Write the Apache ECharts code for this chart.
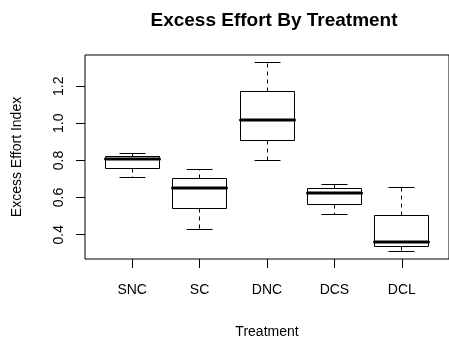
<!DOCTYPE html>
<html>
<head>
<meta charset="utf-8">
<script src="https://cdn.jsdelivr.net/npm/echarts@6/dist/echarts.min.js"></script>
<style>
  html, body { margin: 0; padding: 0; background: #fff; }
  #main { width: 449px; height: 344px; }
</style>
</head>
<body>
<div id="main"></div>
<script>
// treatments along the x axis
var categories = ['SNC', 'SC', 'DNC', 'DCS', 'DCL'];
// five-number summary per treatment (whisker ends, hinges, median)
var lowerWhisker = [0.710, 0.429, 0.800, 0.508, 0.309];
var lowerHinge   = [0.758, 0.542, 0.905, 0.565, 0.336];
var medians      = [0.807, 0.653, 1.016, 0.624, 0.360];
var upperHinge   = [0.821, 0.703, 1.171, 0.647, 0.506];
var upperWhisker = [0.835, 0.752, 1.327, 0.673, 0.652];
var yTicks = [0.4, 0.6, 0.8, 1.0, 1.2];
var xTicks = [1, 2, 3, 4, 5];

var fontFamily = 'Liberation Sans, Arial, Helvetica, sans-serif';

var boxData = categories.map(function (c, i) {
    return [i + 1, lowerWhisker[i], lowerHinge[i], medians[i], upperHinge[i], upperWhisker[i]];
});

function crisp(v) {
    return Math.round(v - 0.5) + 0.5;
}

// R style boxplot: open box, thick median, dashed whiskers, half-width staples
function renderBox(params, api) {
    var x = api.value(0);
    var pLo = api.coord([x, api.value(1)]);
    var pQ1 = api.coord([x, api.value(2)]);
    var pMed = api.coord([x, api.value(3)]);
    var pQ3 = api.coord([x, api.value(4)]);
    var pHi = api.coord([x, api.value(5)]);
    var w = api.size([0.8, 0])[0];
    var cx = crisp(pMed[0]);
    var left = crisp(cx - w / 2), right = crisp(cx + w / 2);
    var sl = crisp(cx - w / 4), sr = crisp(cx + w / 4);
    var line = { stroke: '#000', lineWidth: 1 };
    var dashed = { stroke: '#000', lineWidth: 1, lineDash: [4, 4] };
    return {
        type: 'group',
        children: [
            { type: 'line', shape: { x1: cx, y1: crisp(pQ3[1]), x2: cx, y2: crisp(pHi[1]) }, style: dashed },
            { type: 'line', shape: { x1: cx, y1: crisp(pQ1[1]), x2: cx, y2: crisp(pLo[1]) }, style: dashed },
            { type: 'line', shape: { x1: sl, y1: crisp(pHi[1]), x2: sr, y2: crisp(pHi[1]) }, style: line },
            { type: 'line', shape: { x1: sl, y1: crisp(pLo[1]), x2: sr, y2: crisp(pLo[1]) }, style: line },
            {
                type: 'rect',
                shape: { x: left, y: crisp(pQ3[1]), width: right - left, height: crisp(pQ1[1]) - crisp(pQ3[1]) },
                style: { fill: '#fff', stroke: '#000', lineWidth: 1 }
            },
            {
                type: 'line',
                shape: { x1: left, y1: Math.round(pMed[1]), x2: right, y2: Math.round(pMed[1]) },
                style: { stroke: '#000', lineWidth: 3, lineCap: 'round' }
            }
        ]
    };
}

var myChart = echarts.init(document.getElementById('main'), null, { renderer: 'canvas' });

var option = {
    animation: false,
    backgroundColor: '#fff',
    title: {
        text: 'Excess Effort By Treatment',
        left: 269,
        top: 6,
        textAlign: 'center',
        textStyle: { fontFamily: fontFamily, fontSize: 19, fontWeight: 'bold', color: '#000' }
    },
    grid: {
        left: 85,
        top: 55,
        width: 369,
        height: 212,
        show: true,
        borderColor: '#000',
        borderWidth: 1,
        backgroundColor: 'transparent'
    },
    xAxis: {
        type: 'value',
        min: 0.3,
        max: 5.7,
        name: 'Treatment',
        nameLocation: 'middle',
        nameGap: 66,
        nameTextStyle: { fontFamily: fontFamily, fontSize: 14, color: '#000' },
        axisLine: { show: false },
        splitLine: { show: false },
        axisTick: { show: true, length: 9, customValues: xTicks, lineStyle: { color: '#000' } },
        axisLabel: {
            customValues: xTicks,
            margin: 24,
            fontFamily: fontFamily,
            fontSize: 14,
            color: '#000',
            formatter: function (v) { return categories[Math.round(v) - 1]; }
        }
    },
    yAxis: {
        type: 'value',
        min: 0.269,
        max: 1.368,
        name: 'Excess Effort Index',
        nameLocation: 'middle',
        nameRotate: 90,
        nameGap: 61,
        nameTextStyle: { fontFamily: fontFamily, fontSize: 14, color: '#000' },
        axisLine: { show: false },
        splitLine: { show: false },
        axisTick: { show: true, length: 9, customValues: yTicks, lineStyle: { color: '#000' } },
        axisLabel: {
            customValues: yTicks,
            rotate: 90,
            margin: 19,
            fontFamily: fontFamily,
            fontSize: 14,
            color: '#000',
            formatter: function (v) { return v.toFixed(1); }
        }
    },
    series: [
        {
            type: 'custom',
            renderItem: renderBox,
            data: boxData,
            encode: { x: 0, y: [1, 2, 3, 4, 5] },
            clip: false
        }
    ]
};

myChart.setOption(option);
</script>
</body>
</html>
